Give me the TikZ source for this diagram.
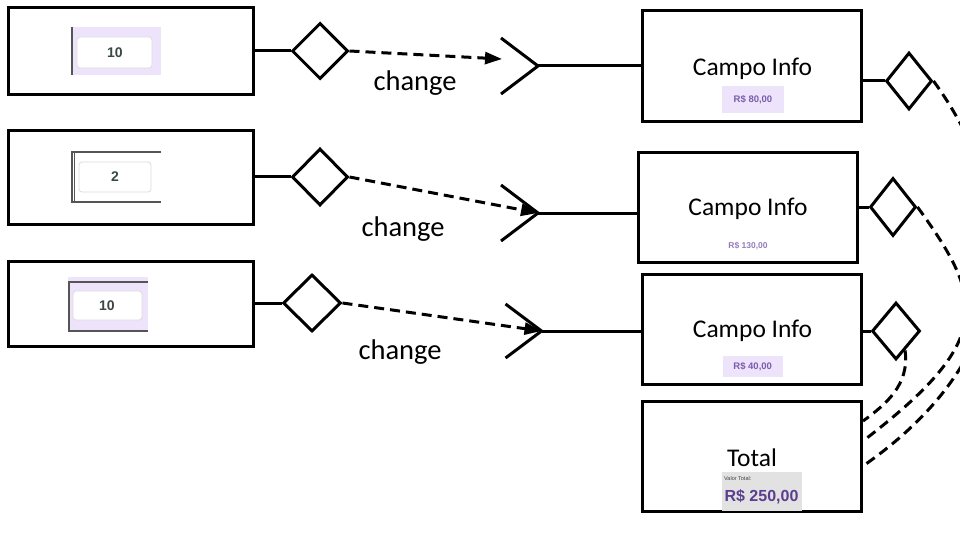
\documentclass[tikz,border=0pt]{standalone}
\usepackage{fontspec}
\setmainfont{Carlito}
\newfontfamily\arialf{Liberation Sans}
\usetikzlibrary{shapes.geometric,arrows.meta}
\definecolor{lav}{HTML}{EDE3FB}
\definecolor{purp}{HTML}{7A5CAA}
\definecolor{dpurp}{HTML}{5B3E8F}
\definecolor{gbg}{HTML}{E2E2E2}
\definecolor{frm}{HTML}{555555}
\definecolor{inb}{HTML}{DCDCDC}
\definecolor{numc}{HTML}{3B4747}
\tikzset{
  box/.style={draw, rectangle, line width=3pt, inner sep=0pt},
  dia/.style={draw, diamond, line width=3pt, inner sep=0pt},
  conn/.style={line width=3pt},
  dsh/.style={line width=3pt, dash pattern=on 10pt off 6pt},
  bigtxt/.style={font=\fontsize{25.5}{28}\selectfont, inner sep=0pt},
  chtxt/.style={font=\fontsize{28.5}{31}\selectfont, inner sep=0pt},
  pricetxt/.style={font=\arialf\bfseries\fontsize{9.5}{11}\selectfont, text=purp, inner sep=0pt},
  numtxt/.style={font=\arialf\bfseries\fontsize{14}{16}\selectfont, text=numc, inner sep=0pt},
  inbox/.style={draw=inb, fill=white, rounded corners=3pt, line width=0.8pt},
  frame/.style={draw=frm, line width=1.3pt},
}
\begin{document}
\begin{tikzpicture}[x=1pt,y=-1pt]
\useasboundingbox (0,0) rectangle (960,540);
\clip (0,0) rectangle (960,540);
\fill[white] (0,0) rectangle (960,540);

% left boxes
\node[box, minimum width=245pt, minimum height=87pt] (b1) at (130.5,51.5) {};
\node[box, minimum width=245pt, minimum height=93pt] (b2) at (130.5,177.5) {};
\node[box, minimum width=245pt, minimum height=85pt] (b3) at (130.5,303.5) {};

% inner input images
\fill[lav] (72,27) rectangle (161,75);
\draw[frame] (72,27) -- (72,75);
\draw[inbox] (77,37) rectangle (152,68);
\node[numtxt] (n1) at (115,53) {10};

\draw[frame] (161,152) -- (72,152) -- (72,202) -- (161,202);
\draw[frm, line width=0.8pt] (74.5,152) -- (74.5,202);
\draw[inbox] (79,162) rectangle (151,192);
\node[numtxt] (n2) at (115,177) {2};

\fill[lav] (68,277) rectangle (148,332);
\draw[frame] (148,282) -- (69,282) -- (69,331) -- (148,331);
\draw[inbox] (73,291) rectangle (142,320);
\node[numtxt] (n3) at (107,306) {10};

% left diamonds
\node[dia, minimum width=56pt, minimum height=56pt] (d1) at (320,51) {};
\node[dia, minimum width=56pt, minimum height=57pt] (d2) at (320,177) {};
\node[dia, minimum width=58pt, minimum height=57pt] (d3) at (312,303) {};
\draw[conn] (b1.east |- d1.west) -- (d1.west);
\draw[conn] (b2.east |- d2.west) -- (d2.west);
\draw[conn] (b3.east |- d3.west) -- (d3.west);

% right boxes
\node[box, minimum width=219pt, minimum height=111pt] (r1) at (752,66.3) {};
\node[box, minimum width=219pt, minimum height=110pt] (r2) at (748.3,207.3) {};
\node[box, minimum width=219pt, minimum height=110pt] (r3) at (752,329) {};
\node[box, minimum width=219pt, minimum height=110pt] (tot) at (752,456) {};

\node[bigtxt] (t1) at (752.5,69) {Campo Info};
\fill[lav] (722,86) rectangle (784,112.7);
\node[pricetxt] (p1) at (753,99.5) {R\$ 80,00};
\node[bigtxt] (t2) at (748,209) {Campo Info};
\node[pricetxt, font=\arialf\bfseries\fontsize{8.5}{10}\selectfont, text=purp!80] (p2) at (748,245.7) {R\$ 130,00};
\node[bigtxt] (t3) at (752.5,331) {Campo Info};
\fill[lav] (722.7,356) rectangle (782.7,377.3);
\node[pricetxt] (p3) at (752.7,366.7) {R\$ 40,00};
\node[bigtxt] (t4) at (752,457.7) {Total};
\fill[gbg] (721.7,472.3) rectangle (801.7,511);
\node[font=\arialf\fontsize{5.5}{6}\selectfont, text=black!75, anchor=west, inner sep=0pt] (vt) at (724,478.5) {Valor Total:};
\node[font=\arialf\bfseries\fontsize{16}{18}\selectfont, text=dpurp, inner sep=0pt] (vv) at (761.5,497) {R\$ 250,00};

% right diamonds
\node[dia, minimum width=46pt, minimum height=57pt] (d4) at (909,81) {};
\node[dia, minimum width=46pt, minimum height=58pt] (d5) at (893,207) {};
\node[dia, minimum width=48pt, minimum height=57pt] (d6) at (896,331) {};
\draw[conn] (r1.east |- d4.west) -- (d4.west);
\draw[conn] (r2.east |- d5.west) -- (d5.west);
\draw[conn] (r3.east |- d6.west) -- (d6.west);

% chevrons
\coordinate (v1) at (538,66);
\coordinate (v2) at (538,213);
\coordinate (v3) at (541.5,331);
\draw[conn] (v1) ++(-37,-28) -- (v1) -- ++(-37,28);
\draw[conn] (v2) ++(-37,-28) -- (v2) -- ++(-37,28);
\draw[conn] (v3) ++(-36,-27) -- (v3) -- ++(-36,27);
\draw[conn] (v1) -- (v1 -| r1.west);
\draw[conn] (v2) -- (v2 -| r2.west);
\draw[conn] (v3) -- (v3 -| r3.west);

% dashed change arrows
\coordinate (a1) at (502,59);
\draw[dsh, -{Triangle[length=17pt,width=12pt]}] (d1.east) -- (a1);
\draw[dsh, -{Triangle[length=17pt,width=12pt]}] (d2.east) -- (v2);
\draw[dsh, -{Triangle[length=17pt,width=12pt]}] (d3.east) -- (v3);
\node[chtxt] (c1) at (415,83) {change};
\node[chtxt] (c2) at (403,229) {change};
\node[chtxt] (c3) at (400,352) {change};

% dashed curves to total
\coordinate (e1) at (863,466);
\coordinate (e2) at (863,441);
\coordinate (e3) at (863,421);
\draw[dsh] (d4.east) .. controls (1020,200) and (1030,350) .. (e1);
\draw[dsh] (d5.east) .. controls (985,300) and (995,340) .. (e2);
\draw[dsh] (d6.-65) .. controls (910,385) and (885,405) .. (e3);
\end{tikzpicture}
\end{document}
